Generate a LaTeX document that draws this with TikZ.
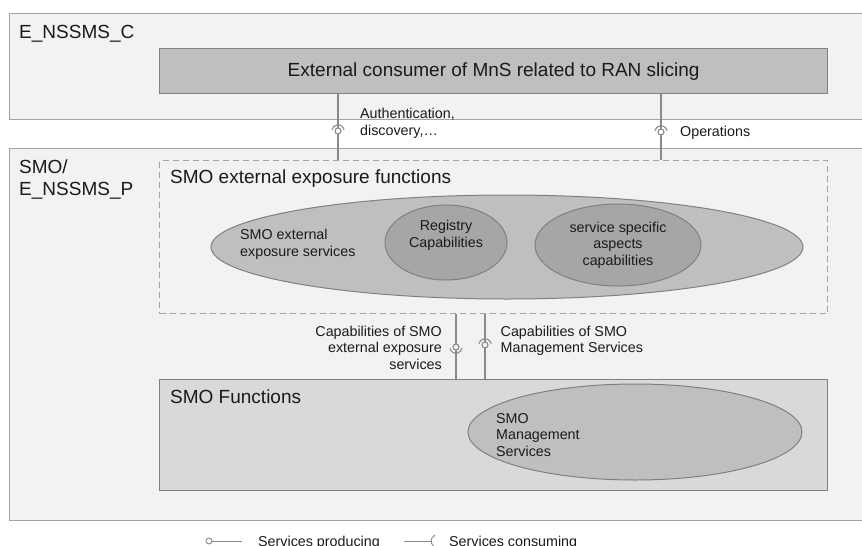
\documentclass[tikz,border=0pt]{standalone}
\usepackage{fontspec}
\setmainfont{Liberation Sans}
\usetikzlibrary{positioning,shapes.geometric}
\definecolor{paneback}{HTML}{F2F2F2}
\definecolor{paneline}{HTML}{A3A3A3}
\definecolor{darkfill}{HTML}{BFBFBF}
\definecolor{darkline}{HTML}{808080}
\definecolor{capfill}{HTML}{A6A6A6}
\definecolor{fnfill}{HTML}{D9D9D9}
\definecolor{connline}{HTML}{8A8A8A}
\definecolor{txtcol}{HTML}{1A1A1A}
\tikzset{
  iface/.pic={
    \draw[conn, pic actions] (0,0) circle (3pt);
    \draw[conn] (12:6.2pt) arc (12:168:6.2pt);
  }
}

\begin{document}
\begin{tikzpicture}[x=1pt,y=-1pt,
  bigtxt/.style={font=\fontsize{19}{21.7}\selectfont, text=txtcol, inner sep=0pt, align=left},
  smalltxt/.style={font=\fontsize{14.3}{16.7}\selectfont, text=txtcol, inner sep=0pt},
  domainbox/.style={draw=paneline, fill=paneback, line width=1.3pt, rectangle, anchor=north west, inner sep=0pt},
  darkbox/.style={draw=darkline, fill=darkfill, line width=1.3pt, rectangle, anchor=north west, inner sep=0pt, font=\fontsize{19}{21.7}\selectfont, text=txtcol},
  dashbox/.style={draw=paneline, fill=paneback, line width=1.1pt, dash pattern=on 6pt off 4pt, rectangle, anchor=north west, inner sep=0pt},
  fnbox/.style={draw=darkline, fill=fnfill, line width=1.3pt, rectangle, anchor=north west, inner sep=0pt},
  bigell/.style={ellipse, draw=darkline, fill=darkfill, line width=1pt, inner sep=0pt},
  capell/.style={ellipse, draw=darkline, fill=capfill, line width=1pt, inner sep=0pt},
  conn/.style={draw=connline, line width=1.1pt}]
  \fill[white] (0,0) rectangle (862,546);
  \useasboundingbox (0,0) rectangle (862,546);
  % Domains
  \node[domainbox, minimum width=852.5pt, minimum height=106pt] (consdom) at (9,13) {};
  \node[domainbox, minimum width=852.5pt, minimum height=372pt] (provdom) at (9,148) {};
  \node[bigtxt, anchor=north west] (consname) at (19,25) {E\_NSSMS\_C};
  \node[bigtxt, anchor=north west] (provname) at (19,159.5) {SMO/\\E\_NSSMS\_P};
  % Blocks
  \node[darkbox, minimum width=668pt, minimum height=45pt] (extcons) at (159,48) {External consumer of MnS related to RAN slicing};
  \node[dashbox, minimum width=668pt, minimum height=153pt] (expo) at (159,160) {};
  \node[bigtxt, anchor=north west] (exponame) at (170,170) {SMO external exposure functions};
  \node[bigell, minimum width=592pt, minimum height=104pt] (exposvc) at (507,247) {};
  \node[smalltxt, align=left, anchor=north west] (exposvctxt) at (240,229) {SMO external\\exposure services};
  \node[capell, minimum width=122pt, minimum height=75pt] (registry) at (446,242.5) {};
  \node[smalltxt, align=center, anchor=north] (registrytxt) at (446,220) {Registry\\Capabilities};
  \node[capell, minimum width=166pt, minimum height=82pt] (specific) at (618,245) {};
  \node[smalltxt, align=center, anchor=north] (specifictxt) at (618,221.5) {service specific\\aspects\\capabilities};
  \node[fnbox, minimum width=668pt, minimum height=111pt] (smofn) at (159,379) {};
  \node[bigtxt, anchor=north west] (smofnname) at (170,390) {SMO Functions};
  \node[bigell, minimum width=334pt, minimum height=96pt] (mns) at (635,432) {};
  \node[smalltxt, align=left, anchor=north west] (mnstxt) at (496,413) {SMO\\Management\\Services};
  % Connections
  \coordinate (authif) at (338,131);
  \coordinate (opsif) at (661,132);
  \coordinate (capexif) at (456,347);
  \coordinate (capmnsif) at (485,345);
  \draw[conn] (extcons.south -| authif) -- (expo.north -| authif);
  \draw[conn] (extcons.south -| opsif) -- (expo.north -| opsif);
  \draw[conn] (expo.south -| capexif) -- (smofn.north -| capexif);
  \draw[conn] (expo.south -| capmnsif) -- (smofn.north -| capmnsif);
  \pic[fill=white] at (authif) {iface};
  \pic[fill=white] at (opsif) {iface};
  \pic[fill=paneback, rotate=180] at (capexif) {iface};
  \pic[fill=paneback] at (capmnsif) {iface};
  \node[smalltxt, align=left, anchor=north west] (authtxt) at (360,108) {Authentication,\\discovery,…};
  \node[smalltxt, anchor=north west] (opstxt) at (680,126) {Operations};
  \node[smalltxt, align=right, anchor=north east] (capextxt) at (442,325.5) {Capabilities of SMO\\external exposure\\services};
  \node[smalltxt, align=left, anchor=north west] (capmnstxt) at (500.5,325.5) {Capabilities of SMO\\Management Services};
  % Legend
  \coordinate (prodend) at (242,541);
  \coordinate (consbeg) at (404,541);
  \node[draw=connline, line width=0.9pt, circle, inner sep=0pt, minimum size=6pt] (prodball) at (209,541) {};
  \coordinate (conscup) at (432,541);
  \draw[conn, line width=0.9pt] (prodball) -- (prodend);
  \draw[conn, line width=0.9pt] (consbeg) -- (conscup);
  \draw[conn, line width=0.9pt] (conscup) ++(3pt,-6pt) arc (245:115:6.6pt);
  \node[smalltxt, anchor=north west] (prodtxt) at (258,536) {Services producing};
  \node[smalltxt, anchor=north west] (constxt) at (449,536) {Services consuming};
\end{tikzpicture}
\end{document}
